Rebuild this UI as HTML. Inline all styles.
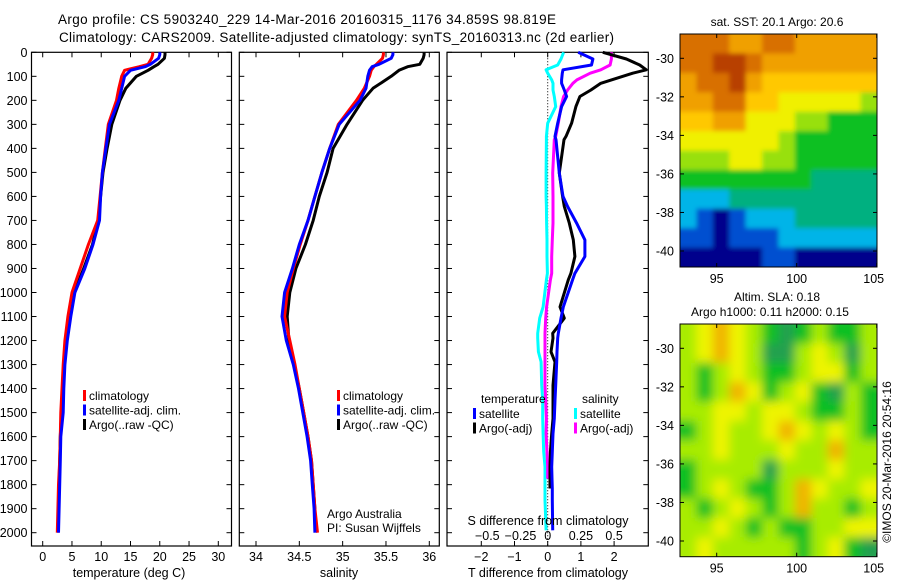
<!DOCTYPE html>
<html><head><meta charset="utf-8"><style>
html,body{margin:0;padding:0;background:#fff;}
svg{display:block;font-family:"Liberation Sans",sans-serif;}
text{fill:#000;}
</style></head><body>
<svg id="fig" width="900" height="580" viewBox="0 0 900 580" xmlns="http://www.w3.org/2000/svg">
<defs>
<filter id="blur" x="-10%" y="-10%" width="120%" height="120%"><feGaussianBlur stdDeviation="5"/></filter>
<filter id="blur2" x="-10%" y="-10%" width="120%" height="120%"><feGaussianBlur stdDeviation="2.5"/></filter>
<clipPath id="clipSla"><rect x="680" y="324" width="197" height="232.7"/></clipPath>
<clipPath id="clipSst"><rect x="680" y="34" width="197" height="233"/></clipPath>
</defs>
<text x="58" y="24" font-size="13.5" textLength="498">Argo profile: CS 5903240_229 14-Mar-2016 20160315_1176 34.859S 98.819E</text>
<text x="59" y="42" font-size="13.5" textLength="555">Climatology: CARS2009. Satellite-adjusted climatology: synTS_20160313.nc (2d earlier)</text>
<g id="p1"></g>
<g id="p2"></g>
<g id="p3"></g>
<g id="m1"></g>
<g id="m2"></g>
<text x="777" y="26" font-size="12" text-anchor="middle">sat. SST: 20.1 Argo: 20.6</text>
<text x="777" y="301" font-size="12" text-anchor="middle">Altim. SLA: 0.18</text>
<text x="770" y="316" font-size="12" text-anchor="middle">Argo h1000: 0.11 h2000: 0.15</text>
<text transform="translate(891,462) rotate(-90)" font-size="12" text-anchor="middle">©IMOS 20-Mar-2016 20:54:16</text>
</svg>
<script>
// ---- profile data ----
const depthsT = [0,10,25,50,60,75,100,150,200,300,400,500,600,700,800,900,1000,1100,1200,1300,1400,1500,1600,1700,1800,1900,2000];
const tempClim = [18.8,18.8,18.6,18,16.5,14,13.5,13,12.6,11.2,10.7,10.2,9.8,9.4,7.8,6.4,5.0,4.3,3.8,3.5,3.3,3.1,3.0,2.9,2.7,2.6,2.5];
const tempSat  = [20.0,20.0,19.8,18.4,17.5,15,14,13.5,13,11.4,10.8,10.2,9.9,9.7,8.6,7.2,5.5,4.8,4.2,3.8,3.6,3.5,3.1,3.0,2.9,2.8,2.7];
const tempArgo = [20.9,20.9,20.8,19.7,19,18,16,14.2,13.2,11.8,11.0,10.3,9.9,9.5,8.5,7.0,5.4,4.5,4.0,3.6,3.4,3.2,3.0,2.9,2.8,2.7,null];
const salClim = [35.47,35.47,35.46,35.39,35.36,35.33,35.31,35.25,35.16,34.95,34.85,34.76,34.68,34.60,34.51,34.43,34.36,34.33,34.39,34.45,34.50,34.55,34.60,34.64,34.66,34.68,34.71];
const salSat  = [35.58,35.58,35.56,35.42,35.34,35.31,35.29,35.27,35.20,34.96,34.85,34.76,34.68,34.60,34.50,34.42,34.33,34.30,34.35,34.43,34.49,34.54,34.59,34.63,34.65,34.67,34.68];
const salArgo = [35.94,35.94,35.93,35.89,35.75,35.65,35.56,35.35,35.23,35.05,34.89,34.82,34.73,34.66,34.57,34.46,34.39,34.36,34.38,34.44,34.50,34.55,34.60,34.64,34.66,34.68,null];
const depthsD = [0,28,53,73,87,115,129,157,184,226,295,350,364,503,600,642,711,781,850,920,947,1060,1107,1170,1190,1247,1289,1386,1449,1525,1588,1663,1726,1775,1816,1865,1990];
const dTsat  = [0.92,1.36,1.32,0.46,0.44,0.42,0.42,0.5,0.57,0.42,0.3,0.22,0.25,0.35,0.46,0.6,0.87,1.12,1.12,0.82,0.75,0.47,0.4,0.32,0.3,0.28,0.27,0.24,0.22,0.2,0.16,0.14,0.12,0.13,0.14,0.14,0.15];
const dTargo = [1.66,2.37,2.77,2.97,2.56,1.92,1.6,1.3,0.97,0.85,0.72,0.55,0.49,0.35,0.45,0.5,0.65,0.77,0.82,0.7,0.62,0.37,0.5,0.15,0.16,0.1,0.22,0.16,0.16,0.16,0.12,0.08,0.07,0.07,0.07,null,null];
const dSsat  = [0.12,0.1,0.075,-0.012,0.0,0.03,0.04,0.04,0.05,0.06,0.0,-0.01,-0.01,-0.012,-0.012,-0.01,-0.008,-0.005,-0.005,-0.002,-0.01,-0.035,-0.06,-0.075,-0.075,-0.07,-0.05,-0.045,-0.038,-0.038,-0.035,-0.03,-0.02,-0.02,-0.02,-0.02,-0.012];
const dSargo = [0.48,0.48,0.47,0.4,0.32,0.22,0.19,0.15,0.12,0.1,0.08,0.06,0.05,0.038,0.04,0.04,0.04,0.035,0.03,0.03,0.02,-0.008,-0.015,-0.02,-0.02,-0.02,-0.02,-0.02,-0.015,-0.01,-0.012,-0.005,0.0,0.0,null,null,null];
const tempTicks = [0,5,10,15,20,25,30];
const salTicks = [34,34.5,35,35.5,36];
const salTickLabels = ["34","34.5","35","35.5","36"];
const dTTicks = [-2,-1,0,1,2];
const dSTicks = [-0.5,-0.25,0,0.25,0.5];
const dSTickLabels = ["\u22120.5","\u22120.25","0","0.25","0.5"];
const depthTicks = [0,100,200,300,400,500,600,700,800,900,1000,1100,1200,1300,1400,1500,1600,1700,1800,1900,2000];
// ---- map data (colour class 0..10 per cell, rows north->south, cols west->east) ----
const sstGrid = [
[9,9,9,8,8,9,9,8,8,8,8,8],
[9,9,10,10,9,8,8,8,8,8,8,8],
[8,9,9,10,8,7,7,7,7,7,7,7],
[8,8,9,9,7,7,6,6,6,6,6,5],
[7,7,8,8,6,6,6,5,5,4,4,4],
[6,6,6,6,6,6,5,4,4,4,4,4],
[5,5,5,6,6,5,5,4,4,4,4,4],
[4,4,4,4,4,4,4,4,3,3,3,3],
[2,2,2,3,3,3,3,3,3,3,3,3],
[2,1,0,1,2,2,2,3,3,3,3,3],
[1,1,0,1,1,1,2,2,2,2,2,2],
[0,0,0,0,0,1,1,0,0,0,0,0]];
const slaGrid = [
[5,6,7,6,5,4,3,4,5,4,4,5],
[5,6,7,6,5,3,3,5,6,5,3,5],
[5,4,5,6,5,4,4,5,6,6,4,5],
[5,4,5,7,6,4,5,6,4,3,5,4],
[5,5,6,6,5,6,6,5,4,4,5,4],
[4,5,6,5,5,6,7,6,5,6,5,4],
[5,5,6,5,5,5,6,5,5,7,5,5],
[4,5,5,5,5,3,5,5,5,6,5,5],
[4,5,6,5,4,4,5,7,6,5,5,6],
[5,4,5,6,5,4,5,7,5,5,4,5],
[5,5,6,5,4,5,4,4,5,5,6,6],
[5,6,5,5,5,5,5,4,5,6,4,3]];
const lonTicks = [95,100,105];
const latTicks = [-30,-32,-34,-36,-38,-40];

const NS="http://www.w3.org/2000/svg";
function mk(parent,tag,attrs,txt){const e=document.createElementNS(NS,tag);for(const k in attrs)e.setAttribute(k,attrs[k]);if(txt!==undefined)e.textContent=txt;parent.appendChild(e);return e;}
const Y0=52.3, YPX=0.2402, YB=546;
const yD = d => Y0 + d*YPX;
function linScale(v0,p0,v1,p1){return v=>p0+(v-v0)*(p1-p0)/(v1-v0);}
const xT = linScale(0,42.7,30,218.3);
const xS = linScale(34,256,36,429.3);
const xdT = linScale(0,547.7,2,614.1);
const xdS = s => xdT(s*4);

function frame(g,L,R,tickXs,drawYlabels){
  const r=mk(g,'rect',{x:L,y:Y0,width:R-L,height:YB-Y0,fill:'none',stroke:'#000','stroke-width':1.2});
  
  
  depthTicks.forEach(d=>{
    const y=yD(d);
    mk(g,'line',{x1:L,x2:L+5,y1:y,y2:y,stroke:'#000'});
    mk(g,'line',{x1:R-5,x2:R,y1:y,y2:y,stroke:'#000'});
    if(drawYlabels){
      const t=mk(g,'text',{x:L-4,y:y+4.5,'font-size':12.5,'text-anchor':'end'},String(d));
      
      
    }
  });
  tickXs.forEach(x=>{
    mk(g,'line',{x1:x,x2:x,y1:Y0,y2:Y0+5,stroke:'#000'});
    mk(g,'line',{x1:x,x2:x,y1:YB-5,y2:YB,stroke:'#000'});
  });
}
function line(g,depths,vals,xf,color,w,name,lo,hi){
  let d='',pen=false;
  vals.forEach((v,i)=>{
    if(v===null){pen=false;return;}
    const x=Math.max(lo,Math.min(hi,xf(v)));
    d+=(pen?'L':'M')+x.toFixed(1)+','+yD(depths[i]).toFixed(1);pen=true;
  });
  const p=mk(g,'path',{d:d,fill:'none',stroke:color,'stroke-width':w,'stroke-linejoin':'round'});
  
  
}
function legend(g,x,y,items){
  items.forEach((it,i)=>{
    const yy=y+i*14.5;
    mk(g,'rect',{x:x,y:yy-9,width:3,height:11,fill:it[1]});
    const t=mk(g,'text',{x:x+6,y:yy+1,'font-size':12},it[0]);
    
    
  });
}
// Panel 1
const p1=document.getElementById('p1');
frame(p1,31.5,231.5,tempTicks.map(xT),true);
tempTicks.forEach(v=>{const t=mk(p1,'text',{x:xT(v),y:561,'font-size':12.5,'text-anchor':'middle'},String(v));

});
mk(p1,'text',{x:129,y:577,'font-size':12.5,'text-anchor':'middle'},'temperature (deg C)');
line(p1,depthsT,tempArgo,xT,'#000',3,'temp-argo-line',32,231);
line(p1,depthsT,tempClim,xT,'#ff0000',3,'temp-climatology-line',32,231);
line(p1,depthsT,tempSat,xT,'#0000ff',3,'temp-satellite-line',32,231);
legend(p1,83,399,[['climatology','#f00'],['satellite-adj. clim.','#00f'],['Argo(..raw -QC)','#000']]);
// Panel 2
const p2=document.getElementById('p2');
frame(p2,239.3,439.3,salTicks.map(xS),false);
salTicks.forEach((v,i)=>{const t=mk(p2,'text',{x:xS(v),y:561,'font-size':12.5,'text-anchor':'middle'},salTickLabels[i]);

});
mk(p2,'text',{x:339,y:577,'font-size':12.5,'text-anchor':'middle'},'salinity');
line(p2,depthsT,salArgo,xS,'#000',3,'sal-argo-line',240,439);
line(p2,depthsT,salClim,xS,'#ff0000',3,'sal-climatology-line',240,439);
line(p2,depthsT,salSat,xS,'#0000ff',3,'sal-satellite-line',240,439);
legend(p2,337,399,[['climatology','#f00'],['satellite-adj. clim.','#00f'],['Argo(..raw -QC)','#000']]);
mk(p2,'text',{x:327,y:518,'font-size':12},'Argo Australia');
mk(p2,'text',{x:327,y:532,'font-size':12},'PI: Susan Wijffels');
// Panel 3
const p3=document.getElementById('p3');
frame(p3,447,648.3,dTTicks.map(xdT),false);
mk(p3,'line',{x1:xdT(0),x2:xdT(0),y1:Y0,y2:YB,stroke:'#000','stroke-dasharray':'1,2'});
line(p3,depthsD,dSsat,xdS,'#00ffff',3,'sal-diff-satellite-line',447,648);
line(p3,depthsD,dSargo,xdS,'#ff00ff',3,'sal-diff-argo-line',447,648);
line(p3,depthsD,dTargo,xdT,'#000',3,'temp-diff-argo-line',447,648);
line(p3,depthsD,dTsat,xdT,'#0000ff',3,'temp-diff-satellite-line',447,648);
dTTicks.forEach(v=>{const t=mk(p3,'text',{x:xdT(v),y:561,'font-size':12.5,'text-anchor':'middle'},v<0?'\u2212'+(-v):String(v));

});
dSTicks.forEach((v,i)=>{const t=mk(p3,'text',{x:xdS(v)+(v<0?6:0),y:540,'font-size':12.5,'text-anchor':'middle'},dSTickLabels[i]);

});
mk(p3,'text',{x:548,y:525,'font-size':12.5,'text-anchor':'middle'},'S difference from climatology');
mk(p3,'text',{x:548,y:577,'font-size':12.5,'text-anchor':'middle'},'T difference from climatology');
mk(p3,'text',{x:481,y:403,'font-size':12},'temperature');
mk(p3,'text',{x:582,y:403,'font-size':12},'salinity');
legend(p3,473,417,[['satellite','#00f'],['Argo(-adj)','#000']]);
legend(p3,574,417,[['satellite','#0ff'],['Argo(-adj)','#f0f']]);
// Maps
const sstColors=['#00008c','#0050d0','#00b4e8','#00b080','#10c020','#98e010','#f0f000','#ffc800','#f0a000','#d87000','#b84000'];
const slaColors=['#00008c','#0050d0','#00b4e8','#20a050','#10c020','#a8ec00','#eef400','#f0b400','#f09000','#d87000','#b84000'];
function drawMap(id,grid,colors,top,bottom,clipId,filterId){
  const g=document.getElementById(id);
  const L=680,R=877;
  const lonX=linScale(95,716.7,105,876.7);
  const latY=linScale(-30,top+24.3,-40,top+217);
  const rows=grid.length, cols=grid[0].length;
  const cw=(R-L)/cols, ch=(bottom-top)/rows;
  const outer=mk(g,'g',{'clip-path':'url(#'+clipId+')'});
  const cells=mk(outer,'g',{filter:'url(#'+filterId+')'});
  grid.forEach((row,r)=>row.forEach((v,c)=>{
    const ex=8;
    const x0=L+c*cw-(c===0?ex:0), y0=top+r*ch-(r===0?ex:0);
    const w=cw+0.6+(c===0?ex:0)+(c===cols-1?ex:0), h=ch+0.6+(r===0?ex:0)+(r===rows-1?ex:0);
    const rc=mk(cells,'rect',{x:x0.toFixed(2),y:y0.toFixed(2),width:w.toFixed(2),height:h.toFixed(2),fill:colors[v]});
    
    
  }));
  mk(g,'rect',{x:L,y:top,width:R-L,height:bottom-top,fill:'none',stroke:'#000'});
  lonTicks.forEach(v=>{const x=lonX(v);
    mk(g,'line',{x1:x,x2:x,y1:top,y2:top+4,stroke:'#000'});
    mk(g,'line',{x1:x,x2:x,y1:bottom-4,y2:bottom,stroke:'#000'});
    const t=mk(g,'text',{x:x-(v==105?3:0),y:bottom+16,'font-size':12.5,'text-anchor':'middle'},String(v));
    
    });
  latTicks.forEach(v=>{const y=latY(v);
    mk(g,'line',{x1:L,x2:L+4,y1:y,y2:y,stroke:'#000'});
    mk(g,'line',{x1:R-4,x2:R,y1:y,y2:y,stroke:'#000'});
    const t=mk(g,'text',{x:674,y:y+4.5,'font-size':12.5,'text-anchor':'end'},'-'+(-v));
    
    });
}
drawMap('m1',sstGrid,sstColors,34,267,'clipSst','blur2');
drawMap('m2',slaGrid,slaColors,324,556.7,'clipSla','blur');
</script>
</body></html>
